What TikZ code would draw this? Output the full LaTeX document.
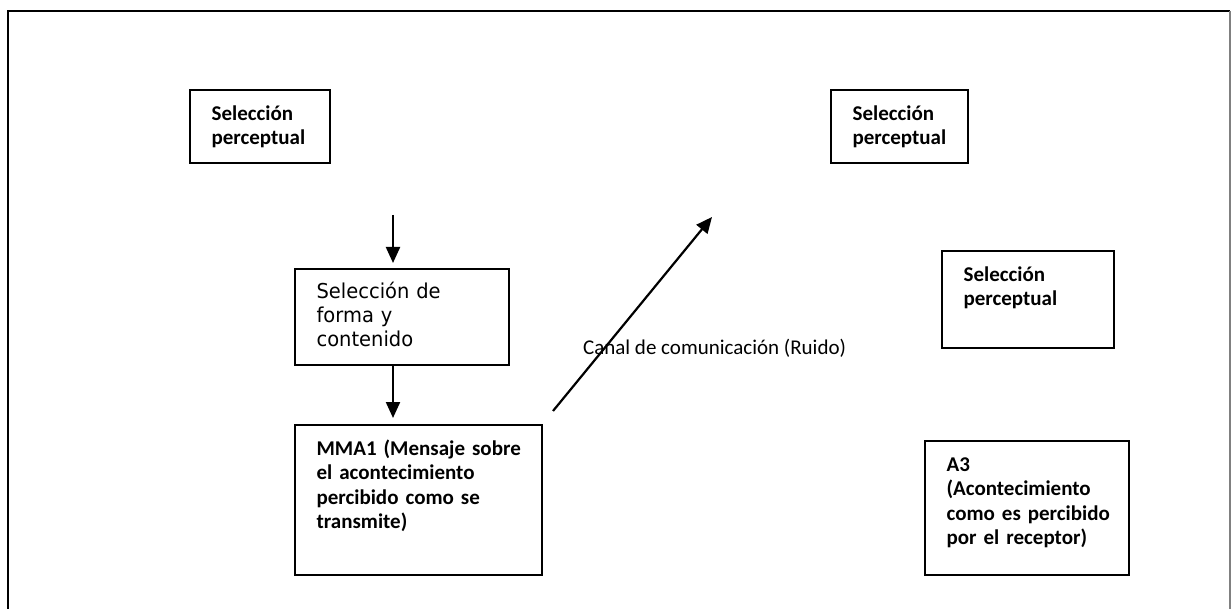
\documentclass[tikz,border=0pt]{standalone}
\usepackage{fontspec}
\setmainfont{Carlito}
\newfontfamily\tahoma[FakeStretch=0.95]{DejaVu Sans}
\usetikzlibrary{arrows.meta,positioning}

\begin{document}
\begin{tikzpicture}[x=1pt, y=-1pt, >={Triangle[length=16pt,width=14pt]}, line width=2.2pt]
        \tikzstyle{caja}=[draw=black, line width=2.2pt, anchor=north west, inner xsep=21.5pt, inner ysep=0pt, align=left, text height=30pt, font=\fontsize{21}{24.5}\selectfont\bfseries]
        \useasboundingbox (0,0) rectangle (1231,609);
        % marco
        \draw[line width=2.5pt] (8,609) -- (8,11) -- (1230,11);
        \draw[line width=1.2pt, gray] (1230,11) -- (1230,609);
        % cajas
        \node[caja, text width=171pt, text height=29pt, text depth=67pt, font=\fontsize{20.5}{24}\selectfont\tahoma] (forma) at (294,268) {\mbox{Selección de}\\forma y\\contenido};
        \node[caja, text width=97pt, text depth=43pt]   (selA)  at (189,89)  {Selección\\perceptual};
        \node[caja, text width=204pt, text depth=120pt] (mma)   at (294,424) {\mbox{MMA1 (Mensaje sobre}\\\mbox{el acontecimiento}\\\mbox{percibido como se}\\transmite)};
        \node[caja, text width=94pt, text depth=43pt]   (selB)  at (830,89)  {Selección\\perceptual};
        \node[caja, text width=129pt, text depth=67pt]  (selC)  at (941,250) {Selección\\perceptual};
        \node[caja, text width=161pt, text depth=104pt] (aTres) at (924,440) {A3\\(Acontecimiento\\\mbox{como es percibido}\\\mbox{por el receptor)}};
        \node[anchor=base west, inner sep=0pt, font=\fontsize{21}{24.5}\selectfont] (canal) at (582,355) {Canal de comunicación (Ruido)};
        % flechas
        \coordinate (p1) at (393,215);
        \coordinate (d1) at (553,411);
        \coordinate (d2) at (712,217);
        \path[->]
        (p1) edge[shorten >=5pt] (forma.north -| p1)
        (forma.south -| p1) edge[shorten >=6pt] (mma.north -| p1)
        (d1) edge (d2);
\end{tikzpicture}
\end{document}
